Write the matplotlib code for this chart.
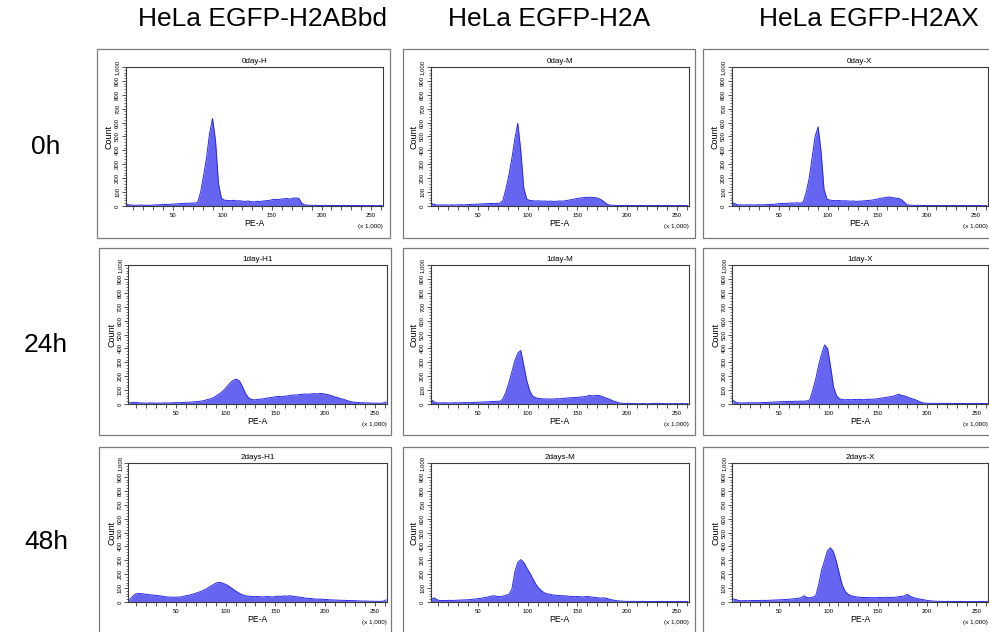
import numpy as np
import matplotlib
matplotlib.use('Agg')
import matplotlib.pyplot as plt
from matplotlib.patches import Rectangle
from matplotlib.ticker import MultipleLocator, FuncFormatter

plt.rcParams['font.family'] = ['Liberation Sans', 'DejaVu Sans']

# column / row headers
col_titles = ['HeLa EGFP-H2ABbd', 'HeLa EGFP-H2A', 'HeLa EGFP-H2AX']
row_titles = ['0h', '24h', '48h']
panel_names = [['0day-H', '0day-M', '0day-X'],
               ['1day-H1', '1day-M', '1day-X'],
               ['2days-H1', '2days-M', '2days-X']]

# bin centres, PE-A (x 1,000): 3, 6, ..., 261
bins = np.arange(3, 262, 3)

# counts per bin
day0_H = [12, 8, 6, 5, 6, 7, 5, 6, 5, 6,
          8, 9, 10, 12, 11, 13, 14, 15, 17, 18,
          20, 19, 22, 21, 25, 100, 220, 350, 520, 630,
          470, 160, 55, 42, 40, 38, 41, 37, 38, 35,
          33, 36, 31, 30, 34, 32, 36, 38, 40, 45,
          48, 46, 50, 52, 54, 50, 56, 58, 55, 20,
          8, 6, 5, 4, 5, 3, 4, 5, 3, 4,
          3, 4, 3, 5, 3, 4, 3, 3, 4, 3,
          3, 2, 3, 4, 2, 3, 4]
day0_M = [18, 12, 6, 8, 7, 8, 7, 8, 7, 8,
          9, 8, 10, 11, 12, 13, 14, 15, 16, 17,
          18, 17, 19, 20, 40, 120, 220, 340, 480, 595,
          400, 130, 50, 40, 38, 36, 37, 35, 36, 34,
          35, 33, 34, 36, 35, 38, 42, 45, 50, 55,
          58, 60, 62, 63, 62, 60, 55, 45, 30, 12,
          6, 5, 4, 4, 3, 5, 3, 4, 3, 3,
          4, 3, 3, 5, 3, 3, 4, 3, 3, 4,
          3, 3, 2, 4, 3, 3, 3]
day0_X = [25, 15, 8, 8, 7, 8, 8, 7, 8, 9,
          8, 9, 10, 11, 12, 15, 17, 18, 19, 20,
          22, 21, 23, 20, 30, 100, 200, 350, 500, 570,
          390, 120, 50, 42, 40, 38, 40, 37, 38, 36,
          35, 36, 33, 35, 36, 38, 40, 42, 45, 50,
          55, 58, 62, 65, 60, 58, 55, 48, 30, 10,
          6, 5, 4, 5, 3, 4, 3, 4, 3, 4,
          3, 3, 4, 3, 3, 4, 3, 3, 4, 3,
          3, 3, 4, 3, 3, 2, 3]
day1_H = [8, 10, 12, 9, 8, 7, 6, 8, 7, 6,
          7, 6, 8, 7, 8, 9, 10, 9, 11, 12,
          13, 14, 16, 18, 20, 24, 30, 36, 42, 55,
          70, 85, 105, 130, 155, 172, 178, 165, 125, 75,
          45, 33, 30, 32, 35, 38, 42, 45, 48, 52,
          55, 52, 56, 58, 62, 65, 64, 68, 70, 72,
          70, 73, 75, 72, 76, 74, 70, 65, 58, 50,
          45, 38, 32, 25, 18, 14, 12, 10, 9, 8,
          8, 7, 6, 6, 5, 7, 15]
day1_M = [30, 15, 8, 8, 9, 8, 7, 8, 9, 8,
          9, 10, 9, 10, 11, 12, 13, 14, 15, 16,
          17, 18, 19, 20, 35, 85, 150, 230, 310, 365,
          385, 280, 170, 95, 55, 45, 40, 38, 36, 37,
          35, 36, 38, 37, 40, 42, 44, 45, 47, 48,
          50, 52, 55, 62, 58, 60, 62, 56, 48, 40,
          32, 22, 15, 8, 5, 4, 5, 3, 3, 2,
          2, 3, 2, 2, 3, 5, 5, 4, 3, 2,
          3, 2, 3, 2, 3, 2, 3]
day1_X = [28, 12, 8, 7, 8, 9, 8, 9, 8, 9,
          10, 11, 12, 13, 14, 15, 16, 17, 18, 19,
          18, 20, 19, 21, 20, 22, 30, 100, 180, 280,
          360, 425, 400, 270, 125, 60, 38, 32, 30, 32,
          30, 33, 31, 34, 30, 32, 35, 33, 36, 38,
          42, 45, 48, 52, 55, 62, 70, 62, 58, 50,
          42, 35, 28, 18, 10, 6, 5, 4, 5, 4,
          5, 4, 3, 4, 5, 3, 4, 3, 4, 3,
          4, 3, 5, 3, 4, 3, 4]
day2_H = [10, 35, 55, 62, 60, 58, 55, 52, 50, 48,
          45, 42, 38, 36, 35, 34, 35, 36, 38, 45,
          48, 55, 60, 68, 75, 85, 95, 110, 122, 135,
          142, 138, 130, 120, 105, 90, 75, 62, 52, 45,
          42, 40, 38, 40, 38, 36, 40, 38, 36, 40,
          42, 40, 44, 42, 45, 40, 38, 35, 32, 28,
          26, 25, 22, 20, 21, 19, 18, 16, 15, 14,
          13, 12, 12, 11, 10, 10, 9, 8, 7, 7,
          6, 6, 5, 5, 4, 6, 15]
day2_M = [20, 30, 15, 10, 11, 10, 12, 11, 12, 13,
          14, 15, 16, 17, 20, 22, 25, 28, 32, 36,
          42, 45, 40, 38, 42, 48, 55, 90, 215, 285,
          305, 285, 245, 210, 170, 130, 100, 80, 65, 58,
          55, 50, 48, 46, 45, 44, 42, 40, 38, 40,
          38, 36, 40, 38, 35, 33, 30, 28, 30, 25,
          18, 14, 10, 8, 6, 5, 5, 4, 5, 4,
          4, 5, 3, 4, 3, 4, 3, 4, 3, 3,
          4, 3, 3, 4, 3, 3, 4]
day2_X = [22, 18, 10, 9, 10, 9, 10, 11, 10, 11,
          12, 11, 12, 13, 14, 15, 16, 17, 18, 20,
          22, 24, 27, 30, 45, 32, 30, 35, 45, 125,
          230, 300, 370, 390, 360, 290, 200, 120, 75, 55,
          45, 40, 36, 34, 32, 33, 31, 32, 30, 33,
          32, 31, 34, 32, 33, 35, 38, 40, 45, 55,
          40, 32, 26, 22, 18, 14, 10, 8, 6, 5,
          5, 4, 4, 5, 3, 4, 3, 4, 3, 3,
          3, 4, 3, 3, 4, 3, 3]

counts = [[day0_H, day0_M, day0_X],
          [day1_H, day1_M, day1_X],
          [day2_H, day2_M, day2_X]]

W, H = 989, 632
fig = plt.figure(figsize=(W / 100, H / 100), dpi=100)

# layout in pixels
ax_top = [67, 265, 463]
ax_h = 139
ax_left = [[125.7, 430.7, 731.7], [128.3, 430.7, 732.3], [128.3, 430.7, 732.3]]
ax_w = [[257.3, 258, 256], [258.7, 258, 256], [258.7, 258, 256]]
frame_y = [(49, 238), (248, 435), (447, 640)]
frame_x = [[(97, 390), (403, 695), (703, 1000)],
           [(99, 391), (403, 695), (703, 1000)],
           [(99, 391), (403, 695), (703, 1000)]]

fill_c = '#6565f2'
edge_c = '#2a2ae8'
spine_c = '#3a3a3a'

for r in range(3):
    for c in range(3):
        # outer frame
        fx0, fx1 = frame_x[r][c]
        fy0, fy1 = frame_y[r]
        fig.add_artist(Rectangle((fx0 / W, 1 - fy1 / H), (fx1 - fx0) / W, (fy1 - fy0) / H,
                                 transform=fig.transFigure, fill=False,
                                 ec='#7a7a7a', lw=0.9))

        left = ax_left[r][c]
        top = ax_top[r]
        ax = fig.add_axes([left / W, 1 - (top + ax_h) / H, ax_w[r][c] / W, ax_h / H])
        y = counts[r][c]
        ax.fill_between(bins, y, color=fill_c, lw=0)
        ax.plot(bins, y, color=edge_c, lw=0.7)
        ax.set_xlim(2.4, 262)
        ax.set_ylim(0, 1000)

        for s in ax.spines.values():
            s.set_color(spine_c)
            s.set_linewidth(0.8)

        ax.xaxis.set_major_locator(MultipleLocator(50))
        ax.xaxis.set_minor_locator(MultipleLocator(10))
        ax.yaxis.set_major_locator(MultipleLocator(100))
        ax.yaxis.set_minor_locator(MultipleLocator(20))
        ax.yaxis.set_major_formatter(FuncFormatter(lambda v, p: f'{int(v):,}'))
        ax.tick_params(axis='x', which='both', length=3, width=0.6, color=spine_c,
                       labelsize=4.3, pad=2)
        ax.tick_params(axis='y', which='major', length=3, width=0.6, color=spine_c,
                       labelsize=4.3, pad=1)
        ax.tick_params(axis='y', which='minor', length=1.5, width=0.5, color=spine_c)
        for lab in ax.get_yticklabels():
            lab.set_rotation(90)
            lab.set_va('center')

        ax.set_xlabel('PE-A', fontsize=6.2, labelpad=1)
        ax.set_ylabel('Count', fontsize=6.5, labelpad=1)
        ax.text(0.5, 1.012, panel_names[r][c], transform=ax.transAxes,
                ha='center', va='bottom', fontsize=5.8)
        ax.text(1.0, -0.15, '(x 1,000)', transform=ax.transAxes,
                ha='right', va='center', fontsize=4.5)

# column headers
for x, t in zip([262, 549, 869], col_titles):
    fig.text(x / W, 1 - 19 / H, t, ha='center', va='center', fontsize=19)

# row headers
for y, t in zip([147, 345, 542], row_titles):
    fig.text(46 / W, 1 - y / H, t, ha='center', va='center', fontsize=19)

fig.savefig('out.png', dpi=100)
